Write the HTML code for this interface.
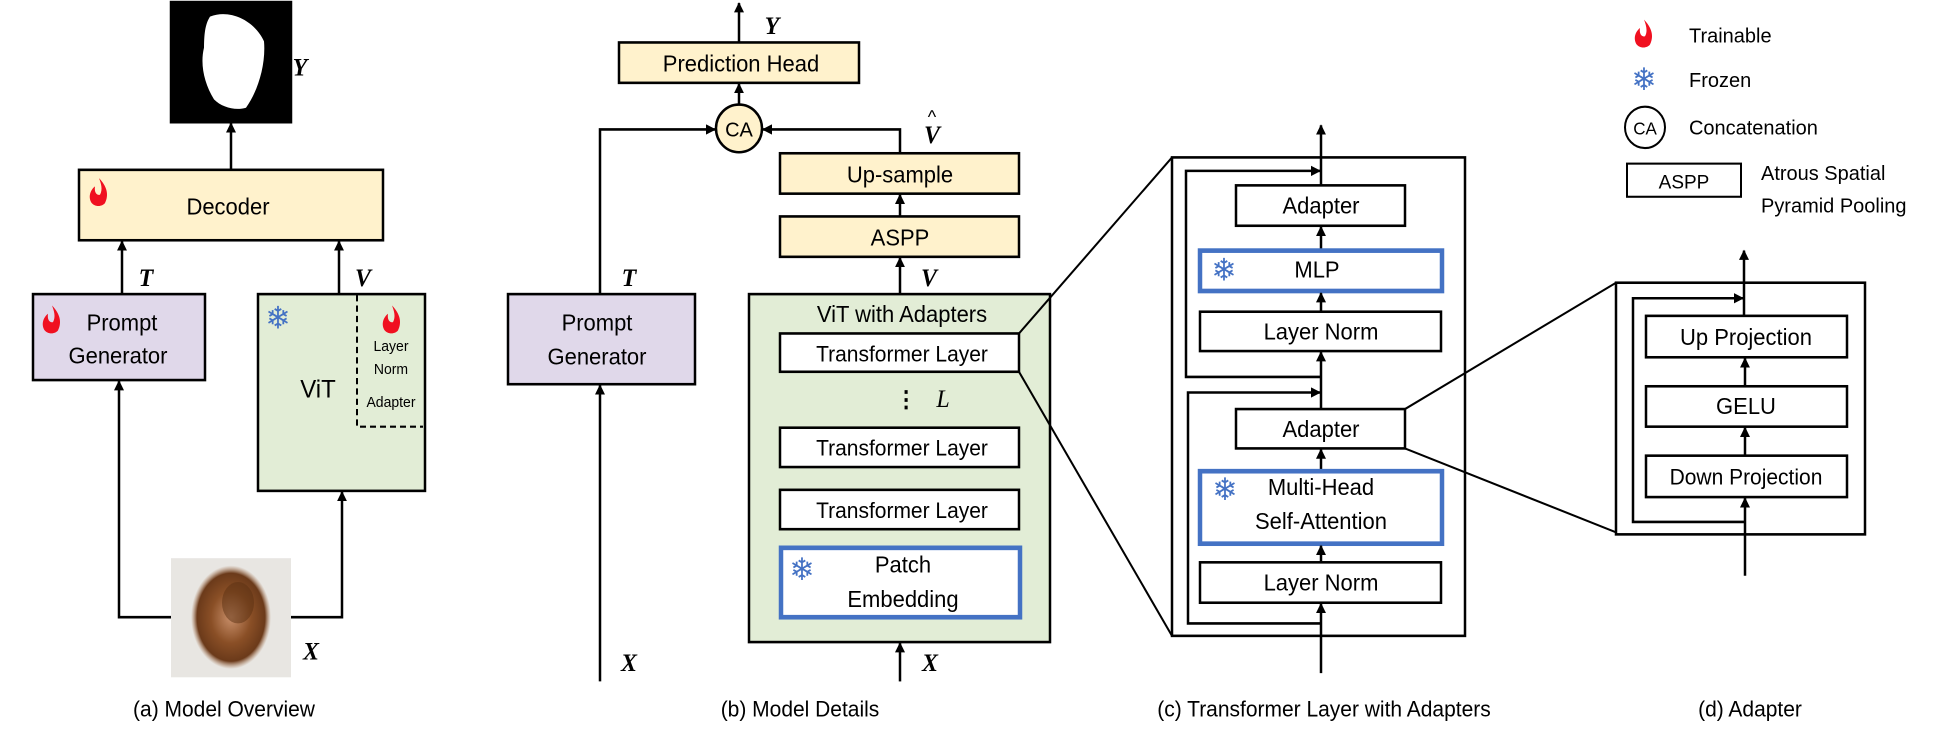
<!DOCTYPE html>
<html><head><meta charset="utf-8"><style>
html,body{margin:0;padding:0;background:#fff}
svg text{font-family:"Liberation Sans",sans-serif;fill:#000}
.m{font-family:"Liberation Serif",serif !important;font-style:italic;font-weight:bold}
</style></head><body>
<svg width="1957" height="725" viewBox="0 0 1957 725" xmlns="http://www.w3.org/2000/svg">
<defs>
<marker id="a" markerWidth="10" markerHeight="10" refX="9" refY="5" orient="auto" markerUnits="userSpaceOnUse"><path d="M0,0 L10,5 L0,10 z" fill="#000"/></marker>
<radialGradient id="skin" cx="50%" cy="50%" r="50%"><stop offset="0" stop-color="#c9906b"/><stop offset="0.5" stop-color="#8a4f26"/><stop offset="0.85" stop-color="#6b3a1a"/><stop offset="1" stop-color="#a8744e" stop-opacity="0"/></radialGradient>
<g id="fire"><path d="M0,-14 C8,-6 10,2 6,10 C3,14 -5,14 -8,9 C-11,3 -8,-3 -4,-6 C-5,0 -2,3 1,2 C4,-3 2,-9 0,-14z" fill="#f01020"/></g>
</defs>
<g transform="scale(1,1.0356)">
<g fill="none" stroke="#000" stroke-width="2.5">
<!-- (a) -->
<rect x="171" y="2" width="120" height="116" fill="#000"/>
<path d="M210,16 C232,8 256,22 264,40 C266,62 258,88 246,104 C236,107 222,104 214,96 C204,80 200,62 204,46 C204,30 206,22 210,16z" fill="#fff" stroke="none"/>
<line x1="231" y1="164" x2="231" y2="119" marker-end="url(#a)"/>
<rect x="79" y="164" width="304" height="68" fill="#FFF2CC"/>
<line x1="122" y1="284" x2="122" y2="233" marker-end="url(#a)"/>
<line x1="339" y1="284" x2="339" y2="233" marker-end="url(#a)"/>
<rect x="33" y="284" width="172" height="83" fill="#E0D8EA"/>
<rect x="258" y="284" width="167" height="190" fill="#E2EDD6"/>
<path d="M357,285 V412 H423" stroke-dasharray="6,4" stroke-width="2"/>
<polyline points="171,596 119,596 119,368" marker-end="url(#a)"/>
<polyline points="291,596 342,596 342,475" marker-end="url(#a)"/>
<rect x="171" y="539" width="120" height="115" fill="#e8e6e2" stroke="none"/>
<ellipse cx="231" cy="596" rx="40" ry="50" fill="url(#skin)" stroke="none"/>
<ellipse cx="238" cy="582" rx="16" ry="20" fill="#5a2f12" opacity="0.5" stroke="none"/>
<!-- (b) -->
<line x1="739" y1="41" x2="739" y2="3" marker-end="url(#a)"/>
<rect x="619" y="41" width="240" height="39" fill="#FFF2CC"/>
<line x1="739" y1="101" x2="739" y2="81" marker-end="url(#a)"/>
<circle cx="739" cy="124" r="23" fill="#FFF2CC"/>
<polyline points="600,284 600,125 715,125" marker-end="url(#a)"/>
<polyline points="900,148 900,125 763,125" marker-end="url(#a)"/>
<rect x="780" y="148" width="239" height="39" fill="#FFF2CC"/>
<line x1="900" y1="209" x2="900" y2="188" marker-end="url(#a)"/>
<rect x="780" y="209" width="239" height="39" fill="#FFF2CC"/>
<line x1="900" y1="284" x2="900" y2="249" marker-end="url(#a)"/>
<rect x="508" y="284" width="187" height="87" fill="#E0D8EA"/>
<line x1="600" y1="658" x2="600" y2="372" marker-end="url(#a)"/>
<rect x="749" y="284" width="301" height="336" fill="#E2EDD6"/>
<rect x="780" y="322" width="239" height="37" fill="#fff"/>
<rect x="780" y="413" width="239" height="38" fill="#fff"/>
<rect x="780" y="473" width="239" height="38" fill="#fff"/>
<rect x="781" y="529" width="239" height="67" fill="#fff" stroke="#4472C4" stroke-width="4.5"/>
<line x1="900" y1="658" x2="900" y2="621" marker-end="url(#a)"/>
<line x1="1019" y1="322" x2="1172" y2="152" stroke-width="2"/>
<line x1="1019" y1="359" x2="1172" y2="614" stroke-width="2"/>
<!-- (c) -->
<rect x="1172" y="152" width="293" height="462"/>
<line x1="1321" y1="179" x2="1321" y2="121" marker-end="url(#a)"/>
<polyline points="1321,364 1186,364 1186,165 1320,165" marker-end="url(#a)"/>
<rect x="1236" y="179" width="169" height="39" fill="#fff"/>
<line x1="1321" y1="241" x2="1321" y2="219" marker-end="url(#a)"/>
<rect x="1200" y="242" width="242" height="39" fill="#fff" stroke="#4472C4" stroke-width="4.5"/>
<line x1="1321" y1="301" x2="1321" y2="283" marker-end="url(#a)"/>
<rect x="1200" y="301" width="241" height="38" fill="#fff"/>
<line x1="1321" y1="395" x2="1321" y2="340" marker-end="url(#a)"/>
<polyline points="1321,602 1188,602 1188,379 1320,379" marker-end="url(#a)"/>
<rect x="1236" y="395" width="169" height="38" fill="#fff"/>
<line x1="1321" y1="454" x2="1321" y2="434" marker-end="url(#a)"/>
<rect x="1200" y="455" width="242" height="70" fill="#fff" stroke="#4472C4" stroke-width="4.5"/>
<line x1="1321" y1="543" x2="1321" y2="527" marker-end="url(#a)"/>
<rect x="1200" y="543" width="241" height="39" fill="#fff"/>
<line x1="1321" y1="650" x2="1321" y2="583" marker-end="url(#a)"/>
<line x1="1405" y1="395" x2="1616" y2="273" stroke-width="2"/>
<line x1="1405" y1="433" x2="1616" y2="514" stroke-width="2"/>
<!-- (d) -->
<rect x="1616" y="273" width="249" height="243"/>
<line x1="1744" y1="305" x2="1744" y2="242" marker-end="url(#a)"/>
<polyline points="1745,504 1633,504 1633,288 1743,288" marker-end="url(#a)"/>
<rect x="1646" y="305" width="201" height="40" fill="#fff"/>
<line x1="1745" y1="373" x2="1745" y2="346" marker-end="url(#a)"/>
<rect x="1646" y="373" width="201" height="39" fill="#fff"/>
<line x1="1745" y1="440" x2="1745" y2="413" marker-end="url(#a)"/>
<rect x="1646" y="440" width="201" height="40" fill="#fff"/>
<line x1="1745" y1="556" x2="1745" y2="481" marker-end="url(#a)"/>
<!-- legend -->
<circle cx="1645" cy="123" r="20" stroke-width="2"/>
<rect x="1627" y="158" width="114" height="32" stroke-width="2"/>
</g>
<!-- icons -->
<use href="#fire" x="99" y="186"/>
<use href="#fire" x="52" y="309"/>
<use href="#fire" x="392" y="309"/>
<use href="#fire" x="1644" y="33"/>
<g font-size="30">
<text x="278" y="317" text-anchor="middle" style="fill:#4472C4;font-family:'DejaVu Sans'">❄</text>
<text x="802" y="560" text-anchor="middle" style="fill:#4472C4;font-family:'DejaVu Sans'">❄</text>
<text x="1224" y="271" text-anchor="middle" style="fill:#4472C4;font-family:'DejaVu Sans'">❄</text>
<text x="1225" y="483" text-anchor="middle" style="fill:#4472C4;font-family:'DejaVu Sans'">❄</text>
<text x="1644" y="87" text-anchor="middle" style="fill:#4472C4;font-family:'DejaVu Sans'">❄</text>
</g>
<!-- text -->
<g font-size="22" text-anchor="middle">
<text x="228" y="207">Decoder</text>
<text x="122" y="319">Prompt</text>
<text x="118" y="351">Generator</text>
<text x="318" y="384" font-size="24">ViT</text>
<text x="391" y="339" font-size="14">Layer</text>
<text x="391" y="361" font-size="14">Norm</text>
<text x="391" y="393" font-size="14">Adapter</text>
<text x="741" y="69">Prediction Head</text>
<text x="739" y="132" font-size="20">CA</text>
<text x="900" y="176">Up-sample</text>
<text x="900" y="237">ASPP</text>
<text x="597" y="319">Prompt</text>
<text x="597" y="352">Generator</text>
<text x="902" y="311">ViT with Adapters</text>
<text x="902" y="349" font-size="21">Transformer Layer</text>
<text x="902" y="440" font-size="21">Transformer Layer</text>
<text x="902" y="500" font-size="21">Transformer Layer</text>
<text x="903" y="553">Patch</text>
<text x="903" y="586">Embedding</text>
<text x="1321" y="206">Adapter</text>
<text x="1317" y="268">MLP</text>
<text x="1321" y="328">Layer Norm</text>
<text x="1321" y="422">Adapter</text>
<text x="1321" y="478">Multi-Head</text>
<text x="1321" y="511">Self-Attention</text>
<text x="1321" y="570">Layer Norm</text>
<text x="1746" y="333">Up Projection</text>
<text x="1746" y="400">GELU</text>
<text x="1746" y="468" font-size="21">Down Projection</text>
<text x="1645" y="130" font-size="17">CA</text>
<text x="1684" y="182" font-size="19">ASPP</text>
</g>
<g font-size="20">
<text x="1689" y="41">Trainable</text>
<text x="1689" y="84">Frozen</text>
<text x="1689" y="130">Concatenation</text>
<text x="1761" y="174">Atrous Spatial</text>
<text x="1761" y="205">Pyramid Pooling</text>
</g>
<g font-size="21" text-anchor="middle">
<text x="224" y="692">(a) Model Overview</text>
<text x="800" y="692">(b) Model Details</text>
<text x="1324" y="692">(c) Transformer Layer with Adapters</text>
<text x="1750" y="692">(d) Adapter</text>
</g>
<g font-size="24" text-anchor="middle">
<text class="m" x="300" y="73">Y</text>
<text class="m" x="146" y="276">T</text>
<text class="m" x="363" y="276">V</text>
<text class="m" x="311" y="637">X</text>
<text class="m" x="772" y="33">Y</text>
<text class="m" x="932" y="138">V</text>
<text x="932" y="119" font-size="18">^</text>
<text class="m" x="629" y="276">T</text>
<text class="m" x="929" y="276">V</text>
<text class="m" x="629" y="648">X</text>
<text class="m" x="930" y="648">X</text>
<text class="m" x="943" y="393" style="font-weight:normal">L</text>
<text x="906" y="393" font-size="22" style="font-weight:bold">⋮</text>
</g>
</g>
</svg>
</body></html>
